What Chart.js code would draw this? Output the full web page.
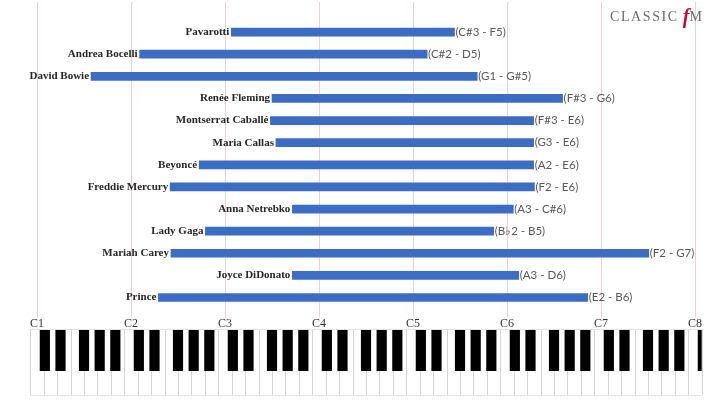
<!DOCTYPE html>
<html>
<head>
<meta charset="utf-8">
<script src="https://cdn.jsdelivr.net/npm/chart.js@4"></script>
<style>
  html, body { margin: 0; padding: 0; background: #ffffff; }
  #wrap { width: 720px; height: 404px; position: relative; }
</style>
</head>
<body>
<div id="wrap"><canvas id="c" width="720" height="404"></canvas></div>
<script>
// Singers (top to bottom)
const singers = ["Pavarotti", "Andrea Bocelli", "David Bowie", "Renée Fleming", "Montserrat Caballé",
  "Maria Callas", "Beyoncé", "Freddie Mercury", "Anna Netrebko", "Lady Gaga", "Mariah Carey",
  "Joyce DiDonato", "Prince"];
// Range labels
const rangeLabels = ["(C#3 - F5)", "(C#2 - D5)", "(G1 - G#5)", "(F#3 - G6)", "(F#3 - E6)",
  "(G3 - E6)", "(A2 - E6)", "(F2 - E6)", "(A3 - C#6)", "(B♭2 - B5)", "(F2 - G7)",
  "(A3 - D6)", "(E2 - B6)"];
// Bar start / end in semitones above C1 (as drawn in the picture)
const lowNotes  = [24.8, 13.1, 6.9, 30.0, 29.8, 30.5, 20.7, 17.0, 32.6, 21.5, 17.1, 32.6, 15.5];
const highNotes = [53.3, 49.8, 56.2, 67.1, 63.4, 63.4, 63.4, 63.5, 60.8, 58.3, 78.1, 61.5, 70.3];
// Octave tick labels
const octaveLabels = ["C1", "C2", "C3", "C4", "C5", "C6", "C7", "C8"];

const ranges = lowNotes.map((lo, i) => [lo, highNotes[i]]);

const gridPlugin = {
  id: 'gridLines',
  beforeDatasetsDraw(chart) {
    const ctx = chart.ctx, x = chart.scales.x;
    ctx.save();
    ctx.strokeStyle = '#ecd0d0';
    ctx.lineWidth = 1;
    octaveLabels.forEach((_, i) => {
      const px = Math.round(x.getPixelForValue(i * 12)) + 0.5;
      ctx.beginPath();
      ctx.moveTo(px, 2);
      ctx.lineTo(px, 317);
      ctx.stroke();
    });
    ctx.restore();
  }
};

const keyboardPlugin = {
  id: 'keyboard',
  afterDraw(chart) {
    const ctx = chart.ctx, x = chart.scales.x;
    const top = 329, bottom = 395, blackBottom = 371;
    const wk = 12 / 7;
    const nWhite = 50;
    const left = x.getPixelForValue(-wk / 2);
    const right = x.getPixelForValue(-wk / 2 + nWhite * wk);
    ctx.save();
    ctx.fillStyle = '#ffffff';
    ctx.fillRect(left, top, right - left, bottom - top);
    ctx.strokeStyle = '#d4d4d4';
    ctx.lineWidth = 1;
    for (let i = 0; i <= nWhite; i++) {
      const px = Math.round(x.getPixelForValue(-wk / 2 + i * wk)) + 0.5;
      ctx.beginPath();
      ctx.moveTo(px, top);
      ctx.lineTo(px, bottom);
      ctx.stroke();
    }
    ctx.beginPath();
    ctx.moveTo(left, bottom + 0.5);
    ctx.lineTo(right, bottom + 0.5);
    ctx.moveTo(left, top + 0.5);
    ctx.lineTo(right, top + 0.5);
    ctx.strokeStyle = '#e2e2e2';
    ctx.stroke();
    // black keys
    ctx.beginPath();
    ctx.rect(left, top, right - left, bottom - top);
    ctx.clip();
    ctx.fillStyle = '#000000';
    const blacks = [1, 3, 6, 8, 10];
    for (let o = 0; o <= 7; o++) {
      blacks.forEach(b => {
        const s = o * 12 + b;
        const a = x.getPixelForValue(s - 0.65), c = x.getPixelForValue(s + 0.65);
        ctx.fillRect(a, top + 1, c - a, blackBottom - top - 1);
      });
    }
    ctx.restore();
  }
};

const labelPlugin = {
  id: 'barLabels',
  afterDatasetsDraw(chart) {
    const ctx = chart.ctx;
    const meta = chart.getDatasetMeta(0);
    ctx.save();
    ctx.textBaseline = 'middle';
    meta.data.forEach((bar, i) => {
      const start = Math.min(bar.x, bar.base), end = Math.max(bar.x, bar.base);
      ctx.font = 'bold 11px "Liberation Serif", serif';
      ctx.fillStyle = '#262626';
      ctx.textAlign = 'right';
      ctx.fillText(singers[i], start - 2, bar.y);
      ctx.font = '11.5px Lato, "Liberation Sans", sans-serif';
      ctx.fillStyle = '#595959';
      ctx.textAlign = 'left';
      ctx.fillText(rangeLabels[i], end + 1, bar.y);
    });
    // logo
    ctx.textBaseline = 'alphabetic';
    ctx.textAlign = 'left';
    ctx.font = '14px "Liberation Serif", serif';
    ctx.fillStyle = '#6b6b6b';
    let lx = 610;
    const word = 'CLASSIC';
    for (const ch of word) {
      ctx.fillText(ch, lx, 21);
      lx += ctx.measureText(ch).width + 1.6;
    }
    lx += 4;
    ctx.font = 'italic bold 20px "Liberation Serif", serif';
    ctx.fillStyle = '#c8102e';
    ctx.fillText('f', lx, 23);
    lx += ctx.measureText('f').width;
    ctx.font = '14px "Liberation Serif", serif';
    ctx.fillStyle = '#6b6b6b';
    ctx.fillText('M', lx, 21);
    ctx.restore();
  }
};

new Chart(document.getElementById('c'), {
  type: 'bar',
  data: {
    labels: singers,
    datasets: [{
      data: ranges,
      backgroundColor: '#3d6cc3',
      borderColor: '#3d6cc3',
      borderWidth: 0,
      barThickness: 8,
      borderSkipped: false
    }]
  },
  options: {
    indexAxis: 'y',
    responsive: false,
    animation: false,
    devicePixelRatio: 1,
    layout: { padding: { left: 37, right: 25, top: 21, bottom: 65 } },
    plugins: { legend: { display: false }, tooltip: { enabled: false } },
    scales: {
      x: {
        type: 'linear',
        min: 0,
        max: 84,
        grid: { display: false, drawTicks: false },
        border: { display: false },
        ticks: {
          stepSize: 12,
          padding: 8,
          autoSkip: false,
          maxRotation: 0,
          color: '#333333',
          font: { family: '"Liberation Serif", serif', size: 12 },
          callback: (v) => (v % 12 === 0 ? octaveLabels[v / 12] : '')
        }
      },
      y: {
        display: false,
        grid: { display: false }
      }
    }
  },
  plugins: [gridPlugin, labelPlugin, keyboardPlugin]
});
</script>
</body>
</html>
